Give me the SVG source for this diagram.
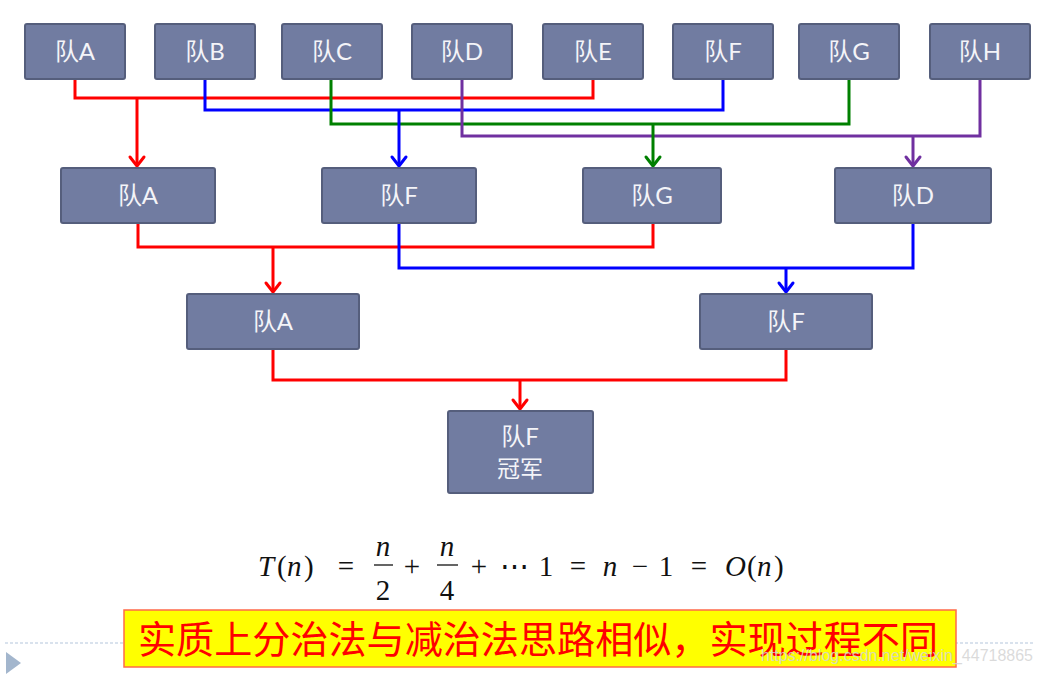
<svg xmlns="http://www.w3.org/2000/svg" width="1042" height="674" viewBox="0 0 1042 674">
<defs>
<style>
.box{fill:#717ca1;stroke:#555e7c;stroke-width:2}
.lbl{font-family:"Lato","Noto Sans CJK SC",sans-serif;font-size:24px;fill:#f4f4f8;text-anchor:middle}
.c{fill:none;stroke-width:3;stroke-linejoin:miter}
.r{stroke:#ff0000}.b{stroke:#0000ff}.g{stroke:#008000}.p{stroke:#7030a0}
.eq{font-family:"Liberation Serif","DejaVu Serif",serif;font-size:29px;fill:#111}
.it{font-style:italic}
</style>
<marker id="mr" markerUnits="userSpaceOnUse" viewBox="-12 -10 14 20" refX="0" refY="0" markerWidth="14" markerHeight="20" orient="auto" overflow="visible"><path d="M-9,-7 L0,0 L-9,7" fill="none" stroke="#ff0000" stroke-width="3" stroke-linecap="round"/></marker>
<marker id="mb" markerUnits="userSpaceOnUse" viewBox="-12 -10 14 20" refX="0" refY="0" markerWidth="14" markerHeight="20" orient="auto" overflow="visible"><path d="M-9,-7 L0,0 L-9,7" fill="none" stroke="#0000ff" stroke-width="3" stroke-linecap="round"/></marker>
<marker id="mg" markerUnits="userSpaceOnUse" viewBox="-12 -10 14 20" refX="0" refY="0" markerWidth="14" markerHeight="20" orient="auto" overflow="visible"><path d="M-9,-7 L0,0 L-9,7" fill="none" stroke="#008000" stroke-width="3" stroke-linecap="round"/></marker>
<marker id="mp" markerUnits="userSpaceOnUse" viewBox="-12 -10 14 20" refX="0" refY="0" markerWidth="14" markerHeight="20" orient="auto" overflow="visible"><path d="M-9,-7 L0,0 L-9,7" fill="none" stroke="#7030a0" stroke-width="3" stroke-linecap="round"/></marker>
</defs>
<rect width="1042" height="674" fill="#ffffff"/>

<g id="connectors">
<path class="c r" d="M75,80 V98 H593 V80"/>
<path class="c b" d="M205,80 V110 H723 V80"/>
<path class="c g" d="M331,80 V124 H849 V80"/>
<path class="c p" d="M462,80 V136 H980 V80"/>
<path class="c r" d="M137,98 V166" marker-end="url(#mr)"/>
<path class="c b" d="M399,110 V166" marker-end="url(#mb)"/>
<path class="c g" d="M653,124 V166" marker-end="url(#mg)"/>
<path class="c p" d="M913,136 V166" marker-end="url(#mp)"/>
<path class="c r" d="M138,224 V247 H653 V224"/>
<path class="c b" d="M399,224 V268 H913 V224"/>
<path class="c r" d="M273,247 V292" marker-end="url(#mr)"/>
<path class="c b" d="M786,268 V292" marker-end="url(#mb)"/>
<path class="c r" d="M273,350 V380 H786 V350"/>
<path class="c r" d="M520,380 V409" marker-end="url(#mr)"/>
</g>

<g id="r1A"><rect class="box" x="25" y="24" width="100" height="55" rx="2"/><text class="lbl" x="75" y="60">队A</text></g>
<g id="r1B"><rect class="box" x="155" y="24" width="100" height="55" rx="2"/><text class="lbl" x="205" y="60">队B</text></g>
<g id="r1C"><rect class="box" x="282" y="24" width="100" height="55" rx="2"/><text class="lbl" x="332" y="60">队C</text></g>
<g id="r1D"><rect class="box" x="412" y="24" width="100" height="55" rx="2"/><text class="lbl" x="462" y="60">队D</text></g>
<g id="r1E"><rect class="box" x="543" y="24" width="100" height="55" rx="2"/><text class="lbl" x="593" y="60">队E</text></g>
<g id="r1F"><rect class="box" x="673" y="24" width="100" height="55" rx="2"/><text class="lbl" x="723" y="60">队F</text></g>
<g id="r1G"><rect class="box" x="799" y="24" width="100" height="55" rx="2"/><text class="lbl" x="849" y="60">队G</text></g>
<g id="r1H"><rect class="box" x="930" y="24" width="100" height="55" rx="2"/><text class="lbl" x="980" y="60">队H</text></g>

<g id="r2A"><rect class="box" x="61" y="168" width="154" height="55" rx="2"/><text class="lbl" x="138" y="204">队A</text></g>
<g id="r2F"><rect class="box" x="322" y="168" width="154" height="55" rx="2"/><text class="lbl" x="399" y="204">队F</text></g>
<g id="r2G"><rect class="box" x="583" y="168" width="138" height="55" rx="2"/><text class="lbl" x="652" y="204">队G</text></g>
<g id="r2D"><rect class="box" x="835" y="168" width="156" height="55" rx="2"/><text class="lbl" x="913" y="204">队D</text></g>

<g id="r3A"><rect class="box" x="187" y="294" width="172" height="55" rx="2"/><text class="lbl" x="273" y="330">队A</text></g>
<g id="r3F"><rect class="box" x="700" y="294" width="172" height="55" rx="2"/><text class="lbl" x="786" y="330">队F</text></g>

<g id="champion"><rect class="box" x="448" y="411" width="145" height="82" rx="2"/><text class="lbl" x="520" y="445">队F</text><text class="lbl" x="520" y="477" style="font-size:23px">冠军</text></g>

<g id="equation">
<text class="eq it" x="258" y="576">T</text>
<text class="eq" x="277" y="576">(</text>
<text class="eq it" x="287" y="576">n</text>
<text class="eq" x="304" y="576">)</text>
<text class="eq" x="346" y="576" text-anchor="middle">=</text>
<text class="eq it" x="383" y="556" text-anchor="middle">n</text>
<line x1="374" y1="565" x2="393" y2="565" stroke="#111" stroke-width="1.3"/>
<text class="eq" x="383" y="600" text-anchor="middle">2</text>
<text class="eq" x="412" y="576" text-anchor="middle">+</text>
<text class="eq it" x="447" y="556" text-anchor="middle">n</text>
<line x1="437" y1="565" x2="458" y2="565" stroke="#111" stroke-width="1.3"/>
<text class="eq" x="447" y="600" text-anchor="middle">4</text>
<text class="eq" x="479" y="576" text-anchor="middle">+</text>
<text class="eq" x="514" y="576" text-anchor="middle">⋯</text>
<text class="eq" x="546" y="576" text-anchor="middle">1</text>
<text class="eq" x="578" y="576" text-anchor="middle">=</text>
<text class="eq it" x="610" y="576" text-anchor="middle">n</text>
<text class="eq" x="640" y="576" text-anchor="middle">−</text>
<text class="eq" x="666" y="576" text-anchor="middle">1</text>
<text class="eq" x="699" y="576" text-anchor="middle">=</text>
<text class="eq it" x="725" y="576">O</text>
<text class="eq" x="747" y="576">(</text>
<text class="eq it" x="757" y="576">n</text>
<text class="eq" x="774" y="576">)</text>
</g>

<line x1="5" y1="643" x2="1035" y2="643" stroke="#b4c6dc" stroke-width="1.2" stroke-dasharray="3,2"/>
<polygon points="6,652 21,663 6,674" fill="#a3b6cd"/>

<g id="banner">
<rect x="124" y="610" width="832" height="57" fill="#ffff00" stroke="#ff6a4a" stroke-width="1.5"/>
<text x="138" y="653" font-family="'Noto Sans CJK SC',sans-serif" font-size="38" fill="#ff0000" textLength="800" lengthAdjust="spacingAndGlyphs">实质上分治法与减治法思路相似，实现过程不同</text>
</g>
<text x="761" y="661" font-family="'Liberation Sans',sans-serif" font-size="17" fill="#d4d4d4" fill-opacity="0.85" textLength="272" lengthAdjust="spacingAndGlyphs">https://blog.csdn.net/weixin_44718865</text>
</svg>
